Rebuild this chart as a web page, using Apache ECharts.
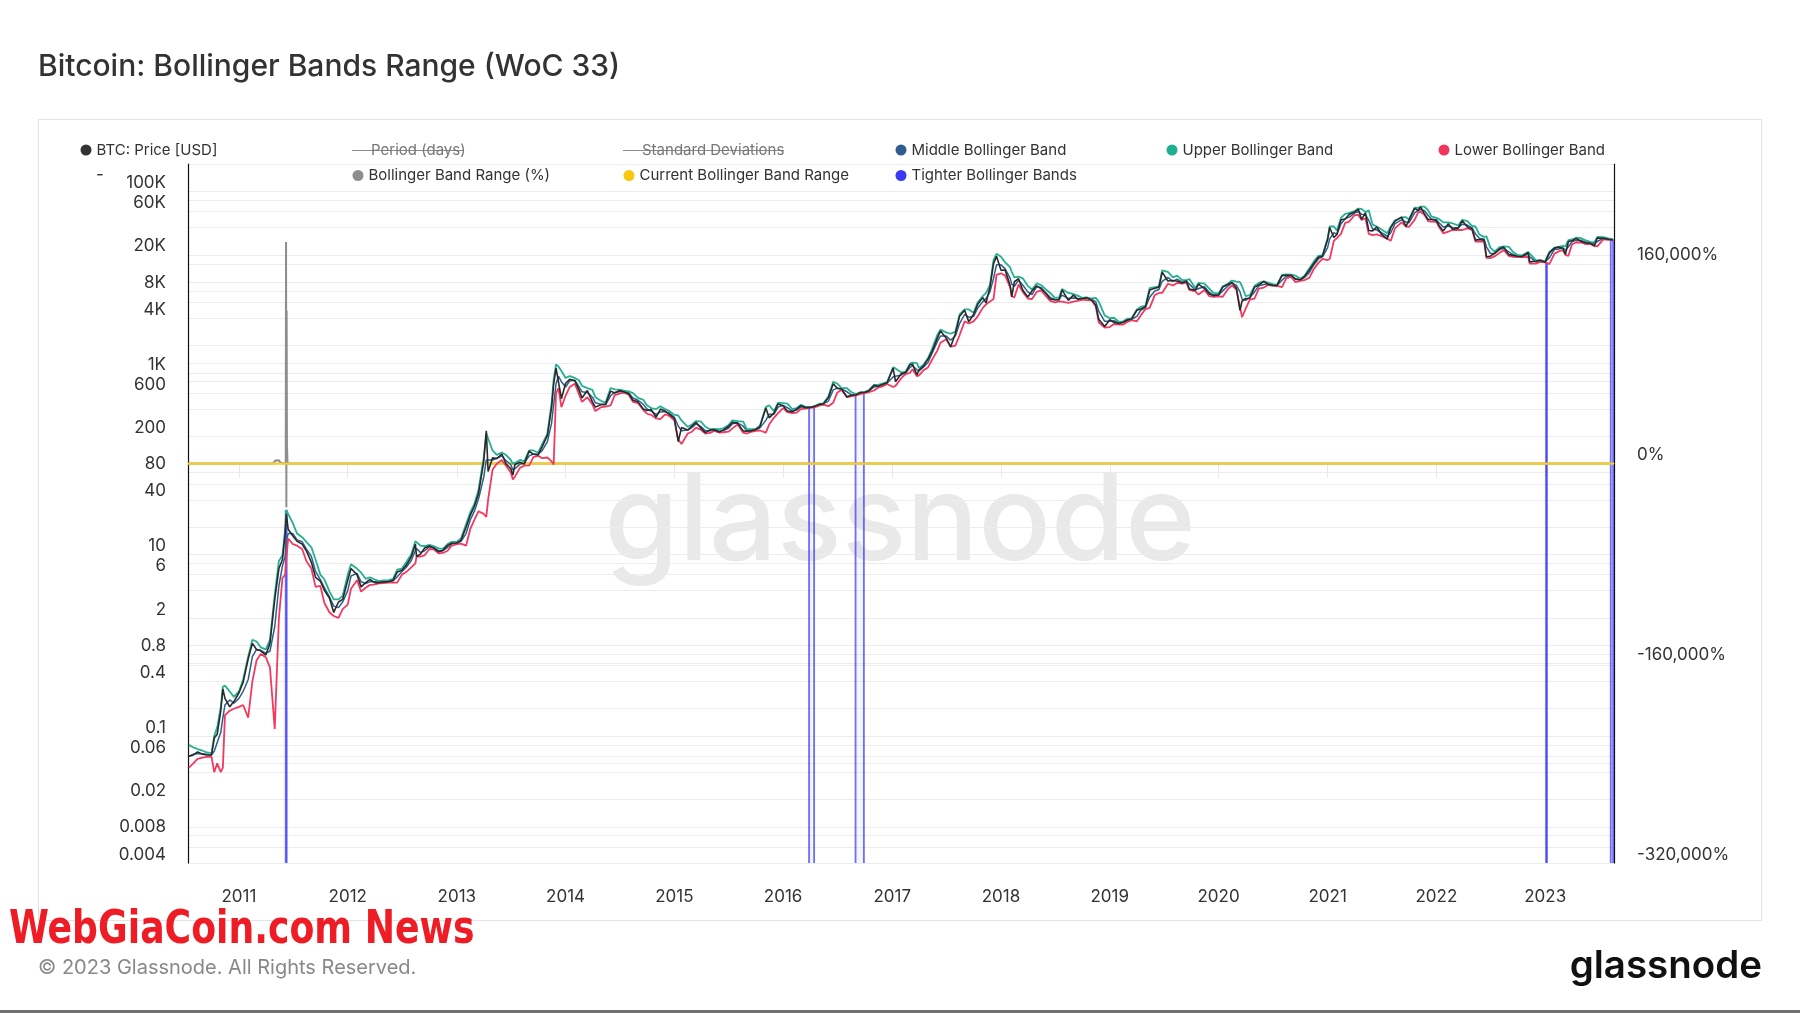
<!DOCTYPE html>
<html><head><meta charset="utf-8">
<script src="https://cdn.jsdelivr.net/npm/echarts@6/dist/echarts.min.js"></script>
<style>html,body{margin:0;padding:0;background:#fff;}#c{width:1800px;height:1013px;}</style>
</head><body><div id="c"></div>
<script>
// ---------- DATA ----------
const dates = [
'2010-07-17','2010-08-01','2010-08-15','2010-09-01','2010-09-15','2010-10-01','2010-10-10','2010-10-20','2010-11-01','2010-11-08','2010-11-15','2010-12-01','2010-12-15',
'2011-01-01','2011-01-15','2011-02-01','2011-02-15','2011-03-01','2011-03-15','2011-04-01','2011-04-15','2011-05-01','2011-05-15','2011-05-27','2011-06-05','2011-06-09','2011-06-15','2011-07-01','2011-07-15','2011-08-01','2011-08-15','2011-09-01','2011-09-15','2011-10-01','2011-10-15','2011-11-01','2011-11-15','2011-12-01','2011-12-15',
'2012-01-01','2012-01-12','2012-02-01','2012-02-15','2012-03-01','2012-03-15','2012-04-01','2012-04-15','2012-05-01','2012-05-15','2012-06-01','2012-06-15','2012-07-01','2012-07-15','2012-08-01','2012-08-15','2012-08-19','2012-09-01','2012-09-15','2012-10-01','2012-10-15','2012-11-01','2012-11-15','2012-12-01','2012-12-15',
'2013-01-01','2013-01-15','2013-02-01','2013-02-15','2013-03-01','2013-03-15','2013-04-01','2013-04-10','2013-04-16','2013-05-01','2013-05-15','2013-06-01','2013-06-15','2013-07-01','2013-07-08','2013-07-15','2013-08-01','2013-08-15','2013-09-01','2013-09-15','2013-10-01','2013-10-15','2013-11-01','2013-11-15','2013-11-22','2013-11-30','2013-12-08','2013-12-18',
'2014-01-01','2014-01-15','2014-02-01','2014-02-15','2014-02-25','2014-03-15','2014-04-01','2014-04-11','2014-05-01','2014-05-15','2014-06-01','2014-06-15','2014-07-01','2014-07-15','2014-08-01','2014-08-15','2014-09-01','2014-09-19','2014-10-01','2014-10-15','2014-11-01','2014-11-15','2014-12-01','2014-12-15',
'2015-01-01','2015-01-14','2015-01-25','2015-02-15','2015-03-01','2015-03-15','2015-04-01','2015-04-15','2015-05-01','2015-05-15','2015-06-01','2015-06-15','2015-07-01','2015-07-15','2015-08-01','2015-08-20','2015-09-01','2015-09-15','2015-10-01','2015-10-15','2015-11-04','2015-11-15','2015-12-01','2015-12-15',
'2016-01-01','2016-01-15','2016-02-01','2016-02-15','2016-03-01','2016-03-15','2016-04-01','2016-04-15','2016-05-01','2016-05-15','2016-06-01','2016-06-17','2016-07-01','2016-07-15','2016-08-02','2016-08-15','2016-09-01','2016-09-15','2016-10-01','2016-10-15','2016-11-01','2016-11-15','2016-12-01','2016-12-15',
'2017-01-04','2017-01-12','2017-02-01','2017-02-15','2017-03-01','2017-03-10','2017-03-25','2017-04-01','2017-04-15','2017-05-01','2017-05-15','2017-06-01','2017-06-12','2017-07-01','2017-07-16','2017-08-01','2017-08-15','2017-09-01','2017-09-15','2017-10-01','2017-10-15','2017-11-01','2017-11-12','2017-11-25','2017-12-07','2017-12-17',
'2018-01-01','2018-01-15','2018-02-01','2018-02-06','2018-02-15','2018-03-01','2018-03-15','2018-04-01','2018-04-15','2018-05-01','2018-05-15','2018-06-01','2018-06-15','2018-07-01','2018-07-15','2018-07-25','2018-08-15','2018-09-01','2018-09-15','2018-10-01','2018-10-15','2018-11-01','2018-11-15','2018-11-25','2018-12-15',
'2019-01-01','2019-01-15','2019-02-01','2019-02-15','2019-03-01','2019-03-15','2019-04-02','2019-04-15','2019-05-01','2019-05-15','2019-06-01','2019-06-15','2019-06-26','2019-07-15','2019-08-01','2019-08-15','2019-09-01','2019-09-15','2019-09-25','2019-10-15','2019-10-26','2019-11-15','2019-12-01','2019-12-15',
'2020-01-01','2020-01-15','2020-02-01','2020-02-15','2020-03-01','2020-03-13','2020-03-20','2020-04-01','2020-04-15','2020-05-01','2020-05-15','2020-06-01','2020-06-15','2020-07-01','2020-07-15','2020-08-01','2020-08-15','2020-09-01','2020-09-15','2020-10-01','2020-10-15','2020-11-01','2020-11-15','2020-12-01','2020-12-15',
'2021-01-01','2021-01-08','2021-01-22','2021-02-01','2021-02-15','2021-03-01','2021-03-15','2021-04-01','2021-04-14','2021-04-25','2021-05-08','2021-05-19','2021-06-01','2021-06-15','2021-07-01','2021-07-20','2021-08-01','2021-08-15','2021-09-06','2021-09-21','2021-10-01','2021-10-20','2021-11-01','2021-11-09','2021-11-22','2021-12-04','2021-12-15',
'2022-01-01','2022-01-10','2022-01-24','2022-02-10','2022-02-24','2022-03-15','2022-03-29','2022-04-15','2022-05-01','2022-05-12','2022-05-25','2022-06-10','2022-06-18','2022-07-01','2022-07-15','2022-08-01','2022-08-15','2022-09-01','2022-09-15','2022-10-01','2022-10-15','2022-11-05','2022-11-10','2022-12-01','2022-12-15',
'2023-01-01','2023-01-15','2023-02-01','2023-02-15','2023-03-01','2023-03-10','2023-03-20','2023-04-01','2023-04-15','2023-05-01','2023-05-15','2023-06-01','2023-06-15','2023-06-25','2023-07-15','2023-08-01','2023-08-17'
];
const price = [
.060,.062,.067,.063,.062,.062,.095,.105,.19,.33,.26,.21,.24,
.30,.39,.71,1.05,.90,.87,.78,1.05,3.2,7.0,8.8,17,28,19,16,14,13,11,8.2,5.6,5.1,4.0,3.3,2.3,3.0,3.2,
5.2,7.0,6.0,4.4,4.9,5.3,4.9,4.9,5.0,5.0,5.2,6.4,6.7,7.6,9.4,13.0,9.5,10.1,11.8,12.4,11.8,10.7,11.1,12.6,13.3,
13.4,14.3,20,27,34,47,104,230,82,116,114,128,100,88,75,98,104,99,138,127,125,155,205,420,750,1130,800,520,
770,850,820,650,530,640,480,420,450,450,630,600,640,620,590,500,480,400,385,395,325,400,380,350,
315,175,250,235,260,285,245,220,235,237,223,236,257,285,280,230,228,230,238,255,410,320,360,455,
434,380,372,400,435,415,417,428,450,456,536,760,676,664,540,567,572,607,613,638,730,712,750,780,
1130,800,985,1010,1220,1250,950,1080,1180,1420,1730,2400,2900,2430,1930,2720,4200,4900,3650,4400,5700,6750,5900,8800,16000,19300,
13500,13600,9100,6900,10100,10900,8200,6850,8000,9100,8500,7500,6500,6400,6350,8200,6300,7200,6500,6600,6750,6370,5600,3900,3250,
3850,3600,3500,3620,3830,3920,4900,5050,5350,8200,8550,8800,12900,10300,10400,10300,9750,10300,8400,8150,9500,8500,7400,7100,
7200,8800,9400,9900,8550,4900,6200,6600,6650,8800,9300,10200,9450,9230,9150,11800,11900,11900,10800,10600,11500,13700,15950,18800,19400,
29400,40000,31000,33500,48700,49600,56000,59000,63500,49000,58000,37000,36700,40500,33500,29800,39900,47000,52000,41000,48200,65000,61300,67500,56500,49000,48900,
47700,41800,36500,44000,38300,39300,47500,40500,38500,29000,29500,29000,19000,19300,20800,23300,24300,20100,19700,19300,19100,21300,16700,17000,17400,
16600,20900,23700,24300,23600,20300,28000,28500,30300,28100,27200,26800,25100,30600,30300,29700,29200
];
const middleBand = [
.060,.063,.064,.064,.063,.062,.068,.085,.11,.16,.22,.25,.23,
.26,.31,.42,.75,.90,.88,.82,.86,1.6,4.5,7.5,9.5,14,17,17,14.5,13.8,11.5,9.5,6.5,5.3,4.3,3.4,2.7,2.6,3.0,
4.0,5.8,6.2,5.0,4.8,5.0,5.0,4.95,5.0,5.05,5.1,5.7,6.5,7.2,8.6,11,11.6,10.5,11,12.2,11.9,11.0,11.0,12.0,13.1,
13.4,14.0,17,24,30,41,70,110,115,110,115,122,108,98,85,88,99,101,122,128,127,140,175,280,450,760,920,800,
700,820,830,700,620,610,540,470,450,445,560,610,620,625,600,530,500,450,400,380,350,370,375,360,
325,260,230,235,250,275,255,230,230,236,228,232,245,275,282,260,230,232,236,248,300,350,350,420,
440,415,380,390,425,415,416,425,445,455,490,650,680,665,620,580,575,600,610,630,700,715,740,775,
900,920,950,1000,1140,1200,1080,1050,1150,1300,1650,2200,2550,2550,2300,2550,3500,4400,4100,4200,5200,6100,6600,7800,11000,15500,
15500,14000,11000,9500,9000,10500,9300,7800,7300,8900,8700,7600,6800,6400,6500,7200,6600,6700,6600,6550,6600,6450,6100,4800,3700,
3700,3750,3550,3600,3800,3900,4200,4900,5250,6800,8000,8300,10200,11300,10200,10800,10000,10200,9500,8200,8500,8900,7700,7250,
7200,8000,9000,9800,9200,7800,6500,6300,6800,7800,9100,9400,9600,9300,9200,10500,11600,11700,10900,10600,11200,12800,15300,18000,19000,
24000,30000,35000,33500,44000,50000,52000,57500,59500,56000,55500,48000,38500,37500,35000,32000,35000,44000,48500,46000,45000,58000,61500,63000,61000,54500,49500,
48500,45000,40500,41500,40000,39800,43500,42500,39500,34000,30500,29800,24500,20800,20500,22800,23500,21500,20100,19400,19300,20200,19000,16700,17100,
16800,18500,22800,23200,23800,22500,24500,27800,29000,29000,27600,27000,26300,28000,30400,29800,29350
];
const upperBand = [
.080,.075,.072,.069,.066,.065,.100,.125,.21,.35,.36,.31,.27,
.31,.42,.75,1.15,1.10,.95,.90,1.15,3.6,8.5,9.8,19,31,28,22,17,15.5,13.8,12,8.8,6.0,5.3,3.9,3.2,3.2,3.5,
6.0,7.8,7.0,6.3,5.4,5.6,5.3,5.1,5.2,5.2,5.4,6.8,7.0,8.2,10,14,14.5,12.5,12.4,12.8,12.4,11.7,11.5,13,13.8,
13.8,15,21.5,29,36,52,115,215,210,140,125,133,125,110,100,102,110,106,140,140,132,165,215,460,850,1240,1180,1050,
880,920,880,830,720,680,650,540,490,470,680,660,655,640,625,600,530,505,440,410,400,430,400,380,
345,340,300,255,270,295,290,255,240,242,240,245,265,300,295,290,240,240,242,262,420,440,380,470,
465,460,400,410,445,425,420,432,455,462,550,800,760,680,680,620,585,612,618,645,740,740,765,790,
1150,1120,1010,1030,1260,1300,1280,1130,1220,1450,1850,2600,3000,2800,2700,2850,4400,5000,5000,4600,6000,7000,7600,9300,17500,20500,
19000,16500,14500,13000,11300,11500,11000,9100,8300,9700,9300,8300,7600,6700,6800,8400,7600,7400,7100,6700,6800,6600,6700,6100,4300,
4000,4050,3650,3700,3950,3980,5000,5350,5500,8600,8800,9000,13500,13000,11300,11800,10500,10500,10800,8600,9800,9600,8500,7600,
7500,9000,9600,10400,10100,10000,9000,7000,7200,9100,9800,10200,9900,9500,9300,12000,12200,12100,11800,10900,11700,14200,16700,19500,19800,
30500,41000,41000,37000,51000,56500,58000,60500,64500,64000,59000,62000,43000,41000,38000,34500,41000,48000,51500,52000,49000,66000,65500,68000,68000,62000,53000,
51000,49500,45500,45500,44500,42000,48500,47000,41500,41000,33500,31500,32000,24000,21700,24300,24800,24500,21500,19900,19700,21500,22000,17400,17500,
17000,21500,24000,24500,25000,24800,29000,29500,30800,30500,29000,27800,27400,31500,31300,30300,29600
];
const lowerBand = [
.045,.050,.056,.058,.059,.059,.040,.050,.040,.045,.17,.19,.20,
.21,.22,.16,.40,.68,.80,.74,.57,.12,2.0,5.5,6.0,9.0,15,13,12.5,11.5,8.5,7.0,4.4,4.5,2.9,2.3,2.1,2.0,2.5,
2.8,4.2,5.2,3.9,4.3,4.6,4.7,4.8,4.85,4.9,4.9,4.9,6.0,6.4,7.2,8,9.5,9.5,9.8,11.5,11.4,10.3,10.4,11,12.5,
13,13.2,12.5,19,24,30,28,26,40,86,100,110,95,80,67,72,90,95,96,118,122,115,117,106,98,600,680,420,
560,700,760,580,480,540,450,380,420,425,440,570,590,605,575,480,465,390,355,345,315,310,350,335,
300,185,165,215,225,250,235,215,218,230,220,222,225,245,270,220,215,224,230,232,220,270,320,360,
410,370,360,365,400,405,412,418,435,448,430,470,610,650,550,550,565,585,600,615,640,690,715,755,
700,720,880,970,1000,1100,920,940,1060,1150,1400,1750,2150,2350,1950,2000,2600,3700,3500,3700,4200,5200,5700,6100,6500,12000,
12500,11800,8700,7000,6800,9400,7800,6600,6500,7800,8100,7000,6200,6000,6150,6100,5900,6100,6200,6400,6350,6300,5400,3600,3150,
3200,3450,3400,3400,3650,3820,3700,4300,5050,5200,7200,7600,7600,9600,9200,9800,9600,9900,8200,7900,7300,8200,7000,6900,
6950,6900,8300,9200,8300,5300,4100,5100,6400,6600,8500,8700,9300,9100,9100,8800,11000,11400,10000,10300,10500,11200,13800,16300,18000,
17500,18000,28500,30500,34000,45000,46500,54500,55000,48500,50500,34000,33000,33500,32000,30000,28500,39000,45500,41000,40500,48500,58500,59500,55000,47000,46500,
46000,40500,34500,36000,37500,37500,37500,39000,37500,28000,28000,28200,18500,18400,19200,21000,22500,19500,19000,18900,18900,18900,16000,16000,16700,
16500,15800,20500,21800,22500,20000,19500,26000,27500,27300,26300,26300,25000,24800,29600,29200,29100
];
// Bollinger Band Range (%) - right axis
const rangeDates  = ['2010-07-17','2011-04-25','2011-05-03','2011-05-15','2011-05-22','2011-06-07','2011-06-08','2011-06-09','2011-06-10','2011-06-11','2011-06-13','2023-08-17'];
const rangeValues = [40, 60, 2400, 2600, 300, 500, 177600, -35000, 122400, 15200, 80, 3];
const currentRange = 3;
// Tighter Bollinger Bands periods
const tightStart = ['2011-06-07','2016-03-28','2016-08-31','2023-01-05','2023-08-09'];
const tightEnd   = ['2011-06-10','2016-04-14','2016-09-28','2023-01-06','2023-08-17'];
const tightTop   = [31, 420, 600, 16700, 29200];
// Axis ticks
const leftLabels = [0.004,0.008,0.02,0.06,0.1,0.4,0.8,2,6,10,40,80,200,600,1000,4000,8000,20000,60000,100000];
const leftGrid = [0.004,0.006,0.008,0.01,0.02,0.04,0.06,0.08,0.1,0.2,0.4,0.6,0.8,1,2,4,6,8,10,20,40,60,80,100,200,400,600,800,1000,2000,4000,6000,8000,10000,20000,40000,60000,80000,100000,200000];
const xMin = '2010-07-14', xMax = '2023-08-20';

[price, middleBand, upperBand, lowerBand].forEach(a => { if (a.length !== dates.length) throw new Error('length mismatch ' + a.length + ' vs ' + dates.length); });

// ---------- CHART ----------
const FONT = 'Inter';
const chart = echarts.init(document.getElementById('c'), null, {renderer: 'canvas'});
const pair = arr => arr.map((v, i) => [dates[i], v]);
const T = s => echarts.time.parse(s).getTime();
const YEAR = 365.25 * 24 * 3600 * 1000;

function lg(name, left, top, extra) {
  return Object.assign({
    data: [name], left: left, top: top, padding: 0, orient: 'horizontal',
    icon: 'circle', itemWidth: 11, itemHeight: 11, selectedMode: false,
    textStyle: {fontSize: 15, color: '#333', fontFamily: FONT, lineHeight: 16}
  }, extra || {});
}
const strikeLegend = {icon: 'rect', itemWidth: 14, itemHeight: 1, textStyle: {fontSize: 15, color: '#777', fontFamily: FONT, lineHeight: 16}};

const lineBase = {type: 'line', showSymbol: false, symbol: 'none', animation: false, xAxisIndex: 0};
const yearOnly = v => { const d = new Date(v); return (d.getMonth() === 0 && d.getDate() === 1) ? String(d.getFullYear()) : ''; };
const BAND_STROKE = 'rgba(55,55,245,0.72)';

chart.setOption({
  animation: false,
  backgroundColor: '#fff',
  textStyle: {fontFamily: FONT},
  grid: {left: 188, right: 186, top: 164, bottom: 150, containLabel: false},
  legend: [
    lg('BTC: Price [USD]', 80.5, 142),
    lg('Period (days)', 352, 142.5, strikeLegend),
    lg('Standard Deviations', 623, 142.5, strikeLegend),
    lg('Middle Bollinger Band', 895.5, 142),
    lg('Upper Bollinger Band', 1166.5, 142),
    lg('Lower Bollinger Band', 1438.5, 142),
    lg('Bollinger Band Range (%)', 352.5, 167.5),
    lg('Current Bollinger Band Range', 623.5, 167.5),
    lg('Tighter Bollinger Bands', 895.5, 167.5)
  ],
  xAxis: {
    type: 'time', min: xMin, max: xMax, minInterval: YEAR * 0.99, maxInterval: YEAR * 1.01, splitNumber: 13,
    axisLine: {show: true, lineStyle: {color: '#dedede', width: 1}},
    axisTick: {show: true, length: 14, lineStyle: {color: '#e8e8e8'}},
    axisLabel: {formatter: yearOnly, margin: 25, fontSize: 17, color: '#333', fontFamily: FONT, showMinLabel: false, showMaxLabel: false},
    splitLine: {show: false}
  },
  yAxis: [
    {
      type: 'log', logBase: 10, min: 0.004, max: 200000, position: 'left',
      axisLine: {show: true, lineStyle: {color: '#111', width: 1.2}},
      axisTick: {show: false, customValues: leftGrid},
      axisLabel: {customValues: leftLabels, formatter: v => v >= 1000 ? (Math.round(v / 1000)) + 'K' : String(+(+v).toPrecision(3)),
                  margin: 22, fontSize: 17, color: '#333', fontFamily: FONT, verticalAlign: 'bottom'},
      splitLine: {show: true, lineStyle: {color: '#ececec', width: 1}}
    },
    {
      type: 'value', min: -320000, max: 240000, interval: 80000, position: 'right',
      axisLine: {show: true, lineStyle: {color: '#111', width: 1.2}},
      axisTick: {show: false},
      axisLabel: {formatter: v => (v % 160000 === 0) ? v.toLocaleString('en-US') + '%' : '',
                  margin: 23, fontSize: 17, color: '#333', fontFamily: FONT, verticalAlign: 'bottom'},
      splitLine: {show: true, lineStyle: {color: '#ececec', width: 1}}
    }
  ],
  series: [
    {
      name: 'Tighter Bollinger Bands', type: 'custom', z: 1, animation: false,
      itemStyle: {color: '#3a3af2'},
      encode: {x: [0, 1], y: 2},
      data: tightStart.map((s, i) => [T(s), T(tightEnd[i]), tightTop[i]]),
      renderItem: function (params, api) {
        const p0 = api.coord([api.value(0), api.value(2)]);
        const p1 = api.coord([api.value(1), api.value(2)]);
        const cs = params.coordSys;
        const bottom = cs.y + cs.height;
        const top = p0[1];
        const w = Math.max(p1[0] - p0[0], 1);
        const cx = (p0[0] + p1[0]) / 2;
        const xl = cx - w / 2, xr = cx + w / 2;
        return {
          type: 'group',
          children: [
            {type: 'rect', shape: {x: xl, y: top, width: w, height: bottom - top}, style: {fill: 'rgba(90,90,250,0.06)'}},
            {type: 'line', shape: {x1: xl, y1: top, x2: xl, y2: bottom}, style: {stroke: BAND_STROKE, lineWidth: 1.8}},
            {type: 'line', shape: {x1: xr, y1: top, x2: xr, y2: bottom}, style: {stroke: BAND_STROKE, lineWidth: 1.8}}
          ]
        };
      }
    },
    Object.assign({}, lineBase, {
      name: 'Bollinger Band Range (%)', yAxisIndex: 1, z: 2,
      itemStyle: {color: '#8e8e8e'}, lineStyle: {color: '#8e8e8e', width: 2},
      data: rangeDates.map((d, i) => [d, rangeValues[i]])
    }),
    Object.assign({}, lineBase, {
      name: 'Current Bollinger Band Range', yAxisIndex: 1, z: 3,
      itemStyle: {color: '#f6c90e'}, lineStyle: {color: '#f6cd2a', width: 2.2},
      data: [[xMin, currentRange], [xMax, currentRange]]
    }),
    Object.assign({}, lineBase, {
      name: 'Middle Bollinger Band', yAxisIndex: 0, z: 4,
      itemStyle: {color: '#2f5e8e'}, lineStyle: {color: '#2f5e8e', width: 1.5},
      data: pair(middleBand)
    }),
    Object.assign({}, lineBase, {
      name: 'Upper Bollinger Band', yAxisIndex: 0, z: 5,
      itemStyle: {color: '#1fae8e'}, lineStyle: {color: '#25b090', width: 1.8},
      data: pair(upperBand)
    }),
    Object.assign({}, lineBase, {
      name: 'Lower Bollinger Band', yAxisIndex: 0, z: 6,
      itemStyle: {color: '#f1345a'}, lineStyle: {color: '#f23a60', width: 1.8},
      data: pair(lowerBand)
    }),
    Object.assign({}, lineBase, {
      name: 'BTC: Price [USD]', yAxisIndex: 0, z: 7,
      itemStyle: {color: '#333333'}, lineStyle: {color: '#2a2a2a', width: 1.6},
      data: pair(price)
    }),
    Object.assign({}, lineBase, {name: 'Period (days)', yAxisIndex: 0, itemStyle: {color: '#8a8a8a'}, lineStyle: {color: '#8a8a8a'}, data: []}),
    Object.assign({}, lineBase, {name: 'Standard Deviations', yAxisIndex: 0, itemStyle: {color: '#8a8a8a'}, lineStyle: {color: '#8a8a8a'}, data: []})
  ],
  graphic: [
    {type: 'rect', silent: true, z: -10, shape: {x: 38.5, y: 119.5, width: 1723, height: 801}, style: {fill: 'none', stroke: '#e3e3e3', lineWidth: 1}},
    {type: 'text', silent: true, z: -5, x: 900, y: 524, style: {text: 'glassnode', font: '500 120px Inter', fill: '#e9e9e9', align: 'center', verticalAlign: 'middle'}},
    {type: 'text', silent: true, x: 38, y: 67, style: {text: 'Bitcoin: Bollinger Bands Range (WoC 33)', font: '500 30px Inter', fill: '#333', verticalAlign: 'middle'}},
    {type: 'line', silent: true, shape: {x1: 352, y1: 150.5, x2: 463, y2: 150.5}, style: {stroke: '#8a8a8a', lineWidth: 1}},
    {type: 'line', silent: true, shape: {x1: 623, y1: 150.5, x2: 784, y2: 150.5}, style: {stroke: '#8a8a8a', lineWidth: 1}},
    {type: 'text', silent: true, x: 100, y: 175, style: {text: '-', font: '17px Inter', fill: '#333', align: 'center', verticalAlign: 'middle'}},
    {type: 'text', silent: true, x: 38, y: 968, style: {text: '\u00A9 2023 Glassnode. All Rights Reserved.', font: '20px Inter', fill: '#888', verticalAlign: 'middle'}},
    {type: 'text', silent: true, x: 1762, y: 966, style: {text: 'glassnode', font: '600 38.5px Inter', fill: '#111', align: 'right', verticalAlign: 'middle'}},
    {type: 'text', silent: true, x: 9, y: 931, scaleX: 0.875, style: {text: 'WebGiaCoin.com News', font: 'bold 46px "DejaVu Sans Condensed", "DejaVu Sans"', fill: '#ee1c24', verticalAlign: 'middle'}},
    {type: 'rect', silent: true, shape: {x: 0, y: 1010, width: 1800, height: 3}, style: {fill: '#707070'}}
  ]
});
</script></body></html>
